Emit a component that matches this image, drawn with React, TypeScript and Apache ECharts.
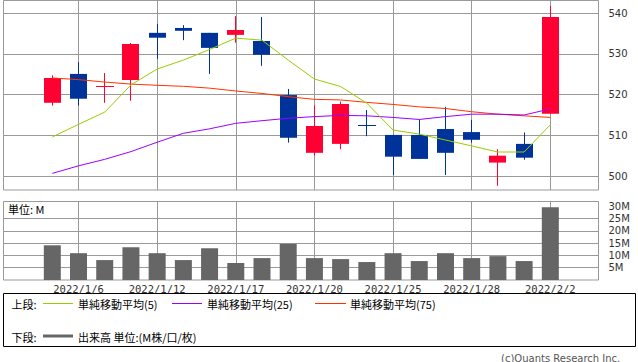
import React, { useEffect, useRef } from 'react';
import * as echarts from 'echarts';

const dates = ['2022/1/5','2022/1/6','2022/1/7','2022/1/11','2022/1/12','2022/1/13','2022/1/14','2022/1/17','2022/1/18','2022/1/19','2022/1/20','2022/1/21','2022/1/24','2022/1/25','2022/1/26','2022/1/27','2022/1/28','2022/1/31','2022/2/1','2022/2/2'];
const openP = [518.0,525.1,522.0,523.6,535.2,536.4,535.2,534.7,533.2,519.9,505.7,507.9,512.55,510.1,510.1,511.55,510.8,503.3,507.9,515.3];
const closeP = [524.1,519.0,522.05,532.45,534.0,535.7,531.5,535.9,529.8,509.4,512.3,517.7,512.5,504.75,504.2,505.7,508.9,505.0,504.5,539.1];
const lowP = [517.3,517.3,518.0,518.5,528.8,533.4,525.1,532.8,527.1,508.2,505.0,506.6,509.8,500.25,504.2,500.25,508.2,497.6,504.0,515.3];
const highP = [524.75,528.0,525.3,532.7,537.4,537.1,535.2,539.3,539.1,521.4,517.4,518.3,516.2,510.1,513.9,517.0,513.8,506.6,510.7,541.8];
const volume = [14.1,10.9,8.1,13.3,10.9,8.1,12.9,6.9,8.9,14.7,8.9,8.5,7.3,10.9,7.7,10.9,8.9,9.7,7.7,29.6];
const ma5 = [509.6,512.7,515.7,522.4,526.3,528.5,531.1,533.9,533.4,528.5,523.85,522.0,517.9,511.3,510.3,508.85,507.4,505.9,505.9,512.6];
const ma25 = [500.65,502.5,504.1,506.0,508.3,510.5,511.6,512.95,513.6,514.2,514.6,514.9,514.8,514.4,513.9,514.6,515.2,515.2,515.0,516.5];
const ma75 = [524.1,523.7,523.1,522.6,522.3,522.05,521.6,520.9,520.3,519.5,518.85,518.7,518.1,517.6,517.0,516.6,515.8,515.2,514.8,514.4];
const labelIdx = [1,4,7,10,13,16,19];
const priceTicks = [500,510,520,530,540];
const volLabels = [5,10,15,20,25,30];
const volGridLines = [5,10,15,20,25];

const UP = '#ff0033';
const DOWN = '#003399';
const C_MA5 = '#99cc00';
const C_MA25 = '#9900ff';
const C_MA75 = '#ff3300';
const GRID = '#999999';
const X_MIN = -1.862;
const X_MAX = 20.838;
const CJK = '"Noto Sans CJK JP", sans-serif';

export default function App() {
  const ref = useRef<HTMLDivElement>(null);
  useEffect(() => {
    const chart = echarts.init(ref.current!, null, { renderer: 'svg' });
    const candleData = dates.map((_, i) => [i, openP[i], closeP[i], lowP[i], highP[i]]);
    const lbl = { fontFamily: 'DejaVu Sans', fontSize: 10, color: '#333' };
    const option: any = {
      animation: false,
      backgroundColor: '#fff',
      grid: [
        { left: 3.5, top: 0.5, width: 595, height: 189.5, show: true, borderColor: GRID, borderWidth: 1, backgroundColor: 'transparent' },
        { left: 3.5, top: 201.5, width: 595, height: 78.5, show: true, borderColor: GRID, borderWidth: 1, backgroundColor: 'transparent' },
      ],
      xAxis: [
        {
          type: 'value', gridIndex: 0, min: X_MIN, max: X_MAX,
          axisLine: { show: false }, axisTick: { show: false, customValues: labelIdx },
          axisLabel: { show: false }, splitLine: { show: true, lineStyle: { color: GRID, width: 1 } },
        },
        {
          type: 'value', gridIndex: 1, min: X_MIN, max: X_MAX,
          axisLine: { show: false }, axisTick: { show: false, customValues: labelIdx },
          axisLabel: {
            show: true, customValues: labelIdx, margin: 3,
            formatter: (v: number) => dates[Math.round(v)],
            fontFamily: 'DejaVu Sans Mono', fontSize: 10.5, color: '#333',
          },
          splitLine: { show: true, lineStyle: { color: GRID, width: 1 } },
        },
      ],
      yAxis: [
        {
          type: 'value', gridIndex: 0, position: 'right', min: 496.56, max: 543.15,
          axisLine: { show: false },
          axisTick: { show: true, length: 5, customValues: priceTicks, lineStyle: { color: GRID } },
          axisLabel: { customValues: priceTicks, margin: 10, ...lbl },
          splitLine: { show: true, lineStyle: { color: GRID, width: 1 } },
        },
        {
          type: 'value', gridIndex: 1, position: 'right', min: 0, max: 31.9,
          axisLine: { show: false },
          axisTick: { show: true, length: 5, customValues: volGridLines, lineStyle: { color: GRID } },
          axisLabel: { customValues: volLabels, margin: 10, formatter: (v: number) => v + 'M', ...lbl },
          splitLine: { show: true, lineStyle: { color: GRID, width: 1 } },
        },
      ],
      series: [
        {
          type: 'custom', xAxisIndex: 0, yAxisIndex: 0, z: 2, silent: true, clip: false,
          data: candleData,
          encode: { x: 0, y: [1, 2, 3, 4] },
          renderItem: (params: any, api: any) => {
            const i = api.value(0);
            const o = api.value(1), c = api.value(2), l = api.value(3), h = api.value(4);
            const color = c >= o ? UP : DOWN;
            const pTop = api.coord([i, Math.max(o, c)]);
            const pBot = api.coord([i, Math.min(o, c)]);
            const pH = api.coord([i, h]);
            const pL = api.coord([i, l]);
            const w = Math.round(api.size([1, 0])[0] * 0.65);
            const left = Math.round(pTop[0] - w / 2);
            const cx = left + Math.floor(w / 2) + 0.5;
            const children: any[] = [
              { type: 'line', shape: { x1: cx, y1: pH[1], x2: cx, y2: pL[1] }, style: { stroke: color, lineWidth: 1 } },
            ];
            const bh = pBot[1] - pTop[1];
            if (bh < 1.2) {
              const yy = Math.round(pTop[1]) + 0.5;
              children.push({ type: 'line', shape: { x1: left, y1: yy, x2: left + w + 1, y2: yy }, style: { stroke: color, lineWidth: 1 } });
            } else {
              children.push({ type: 'rect', shape: { x: left, y: pTop[1], width: w, height: bh }, style: { fill: color } });
            }
            return { type: 'group', children };
          },
        },
        { type: 'line', name: '単純移動平均(75)', xAxisIndex: 0, yAxisIndex: 0, z: 3, silent: true, symbol: 'none', data: ma75.map((v, i) => [i, v]), lineStyle: { color: C_MA75, width: 1 } },
        { type: 'line', name: '単純移動平均(25)', xAxisIndex: 0, yAxisIndex: 0, z: 3, silent: true, symbol: 'none', data: ma25.map((v, i) => [i, v]), lineStyle: { color: C_MA25, width: 1 } },
        { type: 'line', name: '単純移動平均(5)', xAxisIndex: 0, yAxisIndex: 0, z: 3, silent: true, symbol: 'none', data: ma5.map((v, i) => [i, v]), lineStyle: { color: C_MA5, width: 1 } },
        { type: 'bar', name: '出来高', xAxisIndex: 1, yAxisIndex: 1, z: 3, silent: true, barWidth: 17, data: volume.map((v, i) => [i, v]), itemStyle: { color: '#666666' } },
      ],
      graphic: [
        { type: 'text', x: 8, y: 208.5, style: { text: '単位: M', fontFamily: CJK, fontSize: 11, fill: '#000', verticalAlign: 'middle' } },
        { type: 'rect', shape: { x: 3.5, y: 293.5, width: 632, height: 53 }, style: { fill: '#fff', stroke: '#000', lineWidth: 1 } },
        { type: 'text', x: 11.5, y: 303.5, style: { text: '上段:', fontFamily: CJK, fontSize: 11, fill: '#000', verticalAlign: 'middle' } },
        { type: 'line', shape: { x1: 43, y1: 303.5, x2: 73, y2: 303.5 }, style: { stroke: C_MA5, lineWidth: 1 } },
        { type: 'text', x: 78, y: 303.5, style: { text: '単純移動平均(5)', fontFamily: CJK, fontSize: 11, fill: '#000', verticalAlign: 'middle' } },
        { type: 'line', shape: { x1: 172, y1: 303.5, x2: 202, y2: 303.5 }, style: { stroke: C_MA25, lineWidth: 1 } },
        { type: 'text', x: 207, y: 303.5, style: { text: '単純移動平均(25)', fontFamily: CJK, fontSize: 11, fill: '#000', verticalAlign: 'middle' } },
        { type: 'line', shape: { x1: 315, y1: 303.5, x2: 346, y2: 303.5 }, style: { stroke: C_MA75, lineWidth: 1 } },
        { type: 'text', x: 350, y: 303.5, style: { text: '単純移動平均(75)', fontFamily: CJK, fontSize: 11, fill: '#000', verticalAlign: 'middle' } },
        { type: 'text', x: 11.5, y: 336.5, style: { text: '下段:', fontFamily: CJK, fontSize: 11, fill: '#000', verticalAlign: 'middle' } },
        { type: 'line', shape: { x1: 43, y1: 336, x2: 73, y2: 336 }, style: { stroke: '#666666', lineWidth: 3 } },
        { type: 'text', x: 78, y: 336.5, style: { text: '出来高 単位:(M株/口/枚)', fontFamily: CJK, fontSize: 11, fill: '#000', verticalAlign: 'middle' } },
        { type: 'text', x: 501, y: 358, style: { text: '(c)Quants Research Inc.', fontFamily: 'DejaVu Sans', fontSize: 10, fill: '#555', verticalAlign: 'middle' } },
      ],
    };
    chart.setOption(option);
    return () => chart.dispose();
  }, []);
  return <div ref={ref} style={{ position: 'fixed', left: 0, top: 0, width: 638, height: 362, background: '#fff' }} />;
}
